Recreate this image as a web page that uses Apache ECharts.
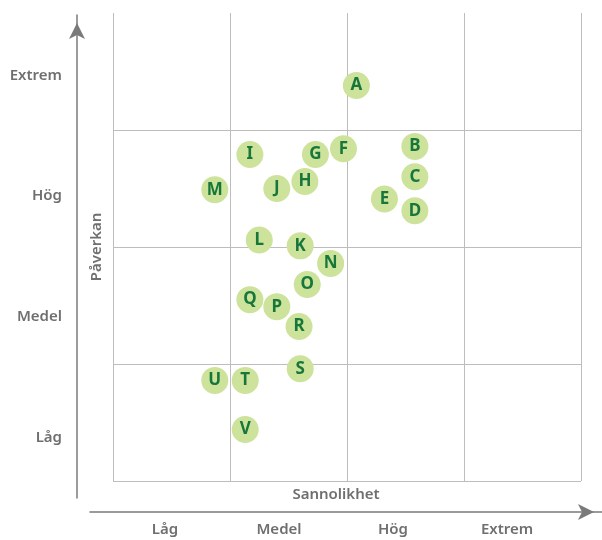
<!DOCTYPE html>
<html>
<head>
<meta charset="utf-8">
<script src="https://cdn.jsdelivr.net/npm/echarts@6/dist/echarts.min.js"></script>
<style>
  html, body { margin: 0; padding: 0; background: #fff; }
  #chart { width: 602px; height: 540px; }
</style>
</head>
<body>
<div id="chart"></div>
<script>
// risk matrix: sannolikhet (x) vs påverkan (y), both 0..4
var levelLabels = ['Låg', 'Medel', 'Hög', 'Extrem']
var riskNames = ['A', 'B', 'C', 'D', 'E', 'F', 'G', 'H', 'I', 'J', 'K',
  'L', 'M', 'N', 'O', 'P', 'Q', 'R', 'S', 'T', 'U', 'V']
var probability = [2.08, 2.58, 2.58, 2.58, 2.32, 1.97, 1.73, 1.64, 1.17, 1.40, 1.60,
  1.25, 0.87, 1.86, 1.66, 1.40, 1.17, 1.59, 1.60, 1.13, 0.87, 1.13]
var impact = [3.38, 2.86, 2.60, 2.31, 2.41, 2.84, 2.79, 2.56, 2.79, 2.50, 2.01,
  2.06, 2.49, 1.86, 1.68, 1.49, 1.55, 1.32, 0.96, 0.86, 0.86, 0.44]

var labelFont = { color: '#6f6f6f', fontSize: 15, fontWeight: 600, fontFamily: 'Noto Sans' }
var arrowLine = {
  show: true,
  symbol: ['none', 'arrow'],
  symbolSize: [12, 16],
  symbolOffset: [0, -8],
  lineStyle: { color: '#7a7a7a', width: 1.5 }
}

var points = []
for (var i = 0; i < riskNames.length; i++) {
  points.push({ name: riskNames[i], value: [probability[i], impact[i]] })
}

var chart = echarts.init(document.getElementById('chart'))
chart.setOption({
  animation: false,
  grid: [
    { left: 113, top: 13, width: 468, height: 468 },
    { left: 77, top: 15, width: 10, height: 483 },
    { left: 90, top: 500, width: 512, height: 12 },
    { left: 108, top: 504, width: 456, height: 8 }
  ],
  xAxis: [
    {
      gridIndex: 0, type: 'value', min: 0, max: 4, interval: 1,
      axisLine: { show: false }, axisTick: { show: false }, axisLabel: { show: false },
      splitLine: { show: true, lineStyle: { color: '#bdbdbd', width: 1 } }
    },
    { gridIndex: 1, type: 'value', show: false },
    {
      gridIndex: 2, type: 'value', min: 0, max: 1,
      axisLine: arrowLine, axisTick: { show: false }, axisLabel: { show: false },
      splitLine: { show: false }
    },
    {
      gridIndex: 3, type: 'category', position: 'bottom', data: levelLabels,
      axisLine: { show: false }, axisTick: { show: false },
      axisLabel: Object.assign({ margin: 10 }, labelFont)
    },
    {
      gridIndex: 3, type: 'value', position: 'top', min: 0, max: 1,
      name: 'Sannolikhet', nameLocation: 'middle', nameGap: 2,
      nameTextStyle: labelFont,
      axisLine: { show: false }, axisTick: { show: false }, axisLabel: { show: false },
      splitLine: { show: false }
    }
  ],
  yAxis: [
    {
      gridIndex: 0, type: 'value', min: 0, max: 4, interval: 1,
      name: 'Påverkan', nameLocation: 'middle', nameGap: 9, nameRotate: 90,
      nameTextStyle: labelFont,
      axisLine: { show: false }, axisTick: { show: false }, axisLabel: { show: false },
      splitLine: { show: true, showMaxLine: false, lineStyle: { color: '#bdbdbd', width: 1 } }
    },
    {
      gridIndex: 1, type: 'category', position: 'left', data: levelLabels,
      axisLine: arrowLine, axisTick: { show: false },
      axisLabel: Object.assign({ margin: 15 }, labelFont)
    },
    { gridIndex: 2, type: 'value', show: false },
    { gridIndex: 3, type: 'value', show: false }
  ],
  series: [
    {
      type: 'scatter',
      xAxisIndex: 0,
      yAxisIndex: 0,
      data: points,
      symbolSize: 27,
      itemStyle: { color: '#cde39b', opacity: 1 },
      label: {
        show: true,
        formatter: '{b}',
        color: '#17773a',
        fontSize: 17,
        fontWeight: 'bold',
        fontFamily: 'Noto Sans'
      }
    }
  ]
})
</script>
</body>
</html>
